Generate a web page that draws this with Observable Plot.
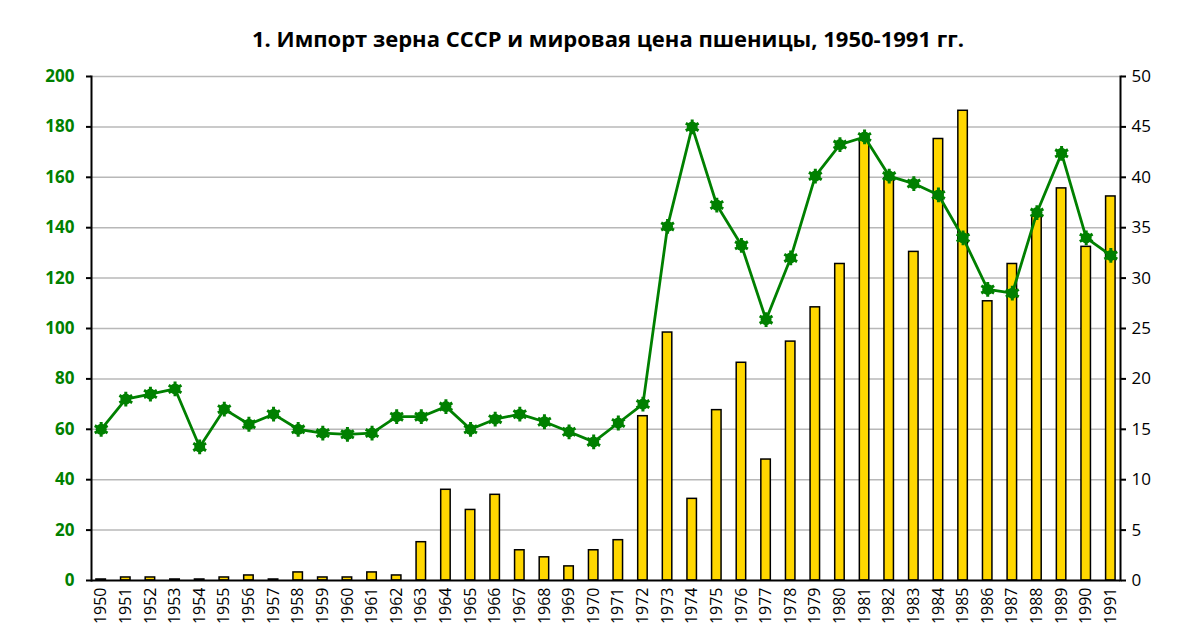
<!DOCTYPE html>
<html><head><meta charset="utf-8">
<script src="https://cdn.jsdelivr.net/npm/d3@7"></script>
<script src="https://cdn.jsdelivr.net/npm/@observablehq/plot@0.6"></script>
<style>
html,body{margin:0;padding:0;background:#fff;overflow:hidden;width:1200px;height:628px}
#title{height:56px;font-family:"Open Sans",sans-serif;font-weight:bold;font-size:22px;text-align:center;line-height:76px;color:#000;padding-left:16px}
#chart svg{display:block}
</style></head><body>
<div id="title">1. Импорт зерна СССР и мировая цена пшеницы, 1950-1991 гг.</div>
<div id="chart"></div>
<script>
const years = [1950,1951,1952,1953,1954,1955,1956,1957,1958,1959,1960,1961,1962,1963,1964,1965,1966,1967,1968,1969,1970,1971,1972,1973,1974,1975,1976,1977,1978,1979,1980,1981,1982,1983,1984,1985,1986,1987,1988,1989,1990,1991];
// Grain import of the USSR, mln t (right axis)
const grainImport = [0.1,0.3,0.3,0.1,0.1,0.3,0.5,0.1,0.8,0.3,0.3,0.8,0.5,3.8,9.0,7.0,8.5,3.0,2.3,1.4,3.0,4.0,16.3,24.6,8.1,16.9,21.6,12.0,23.7,27.1,31.4,43.7,39.9,32.6,43.8,46.6,27.7,31.4,36.1,38.9,33.1,38.1];
// World wheat price (left axis)
const wheatPrice = [60,72,74,76,53,68,62,66,60,58.5,58,58.5,65,65,69,60,64,66,63,59,55,62.5,70,140.5,180,149,133,103.5,128,160.5,173,176,160.5,157.5,153,136,115.5,114,146,169.5,136,129];
const leftTicks = [0,20,40,60,80,100,120,140,160,180,200];
const rightTicks = [0,5,10,15,20,25,30,35,40,45,50];
const ratio = 200 / 50;

const data = years.map((y, i) => ({year: y, imp: grainImport[i], price: wheatPrice[i]}));

const chart = Plot.plot({
  width: 1200,
  height: 572,
  marginTop: 20,
  marginBottom: 48,
  marginLeft: 91,
  marginRight: 80,
  style: {fontFamily: "'Open Sans', sans-serif", background: "#fff"},
  x: {type: "band", domain: years, paddingInner: 0.615, paddingOuter: 0.2, round: false},
  y: {domain: [0, 200]},
  marks: [
    Plot.gridY(leftTicks.filter(d => d > 0), {stroke: "#b8b8b8", strokeOpacity: 1, strokeWidth: 1.5}),
    Plot.barY(data, {x: "year", y: d => d.imp * ratio, fill: "#ffd700", stroke: "#000", strokeWidth: 1.5}),
    Plot.ruleY([0], {stroke: "#000", strokeWidth: 2}),
    Plot.frame({anchor: "left", stroke: "#000", strokeWidth: 2}),
    Plot.frame({anchor: "right", stroke: "#000", strokeWidth: 2}),
    Plot.line(data, {x: "year", y: "price", stroke: "#008000", strokeWidth: 2.8}),
    Plot.dot(data, {x: "year", y: "price", r: 5.5, fill: "#008000"}),
    Plot.dot(data, {x: "year", y: "price", r: 7, symbol: "asterisk", stroke: "#008000", strokeWidth: 3}),
    Plot.axisY(leftTicks, {anchor: "left", tickSize: 5, tickPadding: 12, stroke: "#000", strokeWidth: 2, fill: "#008000", fontSize: 17, fontWeight: "bold", label: null}),
    Plot.axisY(rightTicks.map(v => v * ratio), {anchor: "right", tickSize: 5, tickPadding: 6, stroke: "#000", strokeWidth: 2, fill: "#000", fontSize: 17, tickFormat: d => String(d / ratio), label: null}),
    Plot.axisX({tickRotate: -90, tickSize: 0, tickPadding: 7, fontSize: 16, fill: "#000", tickFormat: d => String(d), label: null})
  ]
});
document.getElementById("chart").appendChild(chart);
</script>
</body></html>
